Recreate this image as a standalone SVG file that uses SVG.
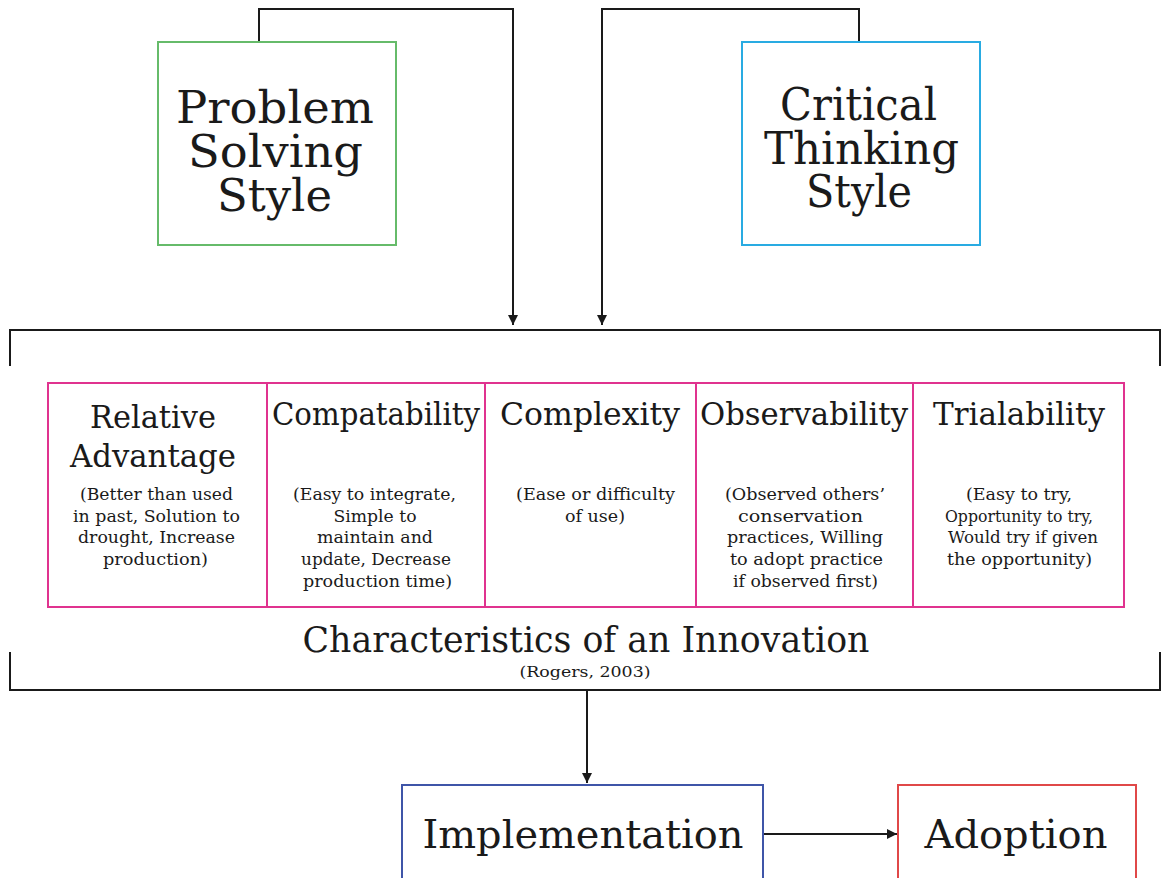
<svg xmlns="http://www.w3.org/2000/svg" width="1162" height="878" viewBox="0 0 1162 878">
<style>
text{font-family:"DejaVu Serif","Liberation Serif",serif;fill:#1a1a1a;text-anchor:middle}
.big{font-size:44px}
.ttl{font-size:31px}
.dsc{font-size:16.5px}
.box{fill:#fff;stroke-width:2}
.ln{fill:none;stroke:#1a1a1a;stroke-width:2}
</style>
<defs>
<marker id="ah" viewBox="0 0 10 10" refX="10" refY="5" markerWidth="10" markerHeight="10" markerUnits="userSpaceOnUse" orient="auto">
<path d="M0,0 L10,5 L0,10 Z" fill="#1a1a1a"/>
</marker>
</defs>
<rect width="1162" height="878" fill="#fff"/>
<g id="connectors">
<path class="ln" d="M259,42 V9 H513 V325" marker-end="url(#ah)"/>
<path class="ln" d="M859,42 V9 H602 V325" marker-end="url(#ah)"/>
<path class="ln" d="M10,366 V330 H1160 V366"/>
<path class="ln" d="M10,652 V690 H1160 V652"/>
<path class="ln" d="M587,690 V783" marker-end="url(#ah)"/>
<path class="ln" d="M764,834 H897" marker-end="url(#ah)"/>
</g>
<g id="problem-solving">
<rect class="box" x="158" y="42" width="238" height="203" stroke="#66bb6a"/>
<text class="big" x="275" y="123" textLength="198" lengthAdjust="spacingAndGlyphs">Problem</text>
<text class="big" x="275.5" y="167" textLength="175" lengthAdjust="spacingAndGlyphs">Solving</text>
<text class="big" x="274.5" y="211" textLength="115" lengthAdjust="spacingAndGlyphs">Style</text>
</g>
<g id="critical-thinking">
<rect class="box" x="742" y="42" width="238" height="203" stroke="#29abe2"/>
<text class="big" x="858.5" y="120" textLength="157" lengthAdjust="spacingAndGlyphs">Critical</text>
<text class="big" x="861.5" y="164" textLength="195" lengthAdjust="spacingAndGlyphs">Thinking</text>
<text class="big" x="859" y="207" textLength="106" lengthAdjust="spacingAndGlyphs">Style</text>
</g>
<g id="relative-advantage">
<rect class="box" x="48" y="383" width="219" height="224" stroke="#e0338f"/>
<text class="ttl" x="153" y="428" textLength="126" lengthAdjust="spacingAndGlyphs">Relative</text>
<text class="ttl" x="153" y="467" textLength="166" lengthAdjust="spacingAndGlyphs">Advantage</text>
<text class="dsc" x="156.5" y="500" textLength="153" lengthAdjust="spacingAndGlyphs">(Better than used</text>
<text class="dsc" x="156.5" y="522" textLength="167" lengthAdjust="spacingAndGlyphs">in past, Solution to</text>
<text class="dsc" x="156.5" y="543" textLength="157" lengthAdjust="spacingAndGlyphs">drought, Increase</text>
<text class="dsc" x="155.5" y="565" textLength="105" lengthAdjust="spacingAndGlyphs">production)</text>
</g>
<g id="compatability">
<rect class="box" x="267" y="383" width="218" height="224" stroke="#e0338f"/>
<text class="ttl" x="376" y="425" textLength="208" lengthAdjust="spacingAndGlyphs">Compatability</text>
<text class="dsc" x="374.5" y="500" textLength="163" lengthAdjust="spacingAndGlyphs">(Easy to integrate,</text>
<text class="dsc" x="375" y="522" textLength="83" lengthAdjust="spacingAndGlyphs">Simple to</text>
<text class="dsc" x="375" y="543" textLength="116" lengthAdjust="spacingAndGlyphs">maintain and</text>
<text class="dsc" x="376" y="565" textLength="150" lengthAdjust="spacingAndGlyphs">update, Decrease</text>
<text class="dsc" x="377.5" y="587" textLength="149" lengthAdjust="spacingAndGlyphs">production time)</text>
</g>
<g id="complexity">
<rect class="box" x="485" y="383" width="211" height="224" stroke="#e0338f"/>
<text class="ttl" x="590" y="425" textLength="180" lengthAdjust="spacingAndGlyphs">Complexity</text>
<text class="dsc" x="595.5" y="500" textLength="159" lengthAdjust="spacingAndGlyphs">(Ease or difficulty</text>
<text class="dsc" x="595" y="522" textLength="60" lengthAdjust="spacingAndGlyphs">of use)</text>
</g>
<g id="observability">
<rect class="box" x="696" y="383" width="217" height="224" stroke="#e0338f"/>
<text class="ttl" x="804" y="425" textLength="208" lengthAdjust="spacingAndGlyphs">Observability</text>
<text class="dsc" x="805" y="500" textLength="160" lengthAdjust="spacingAndGlyphs">(Observed others’</text>
<text class="dsc" x="800.5" y="522" textLength="125" lengthAdjust="spacingAndGlyphs">conservation</text>
<text class="dsc" x="805" y="543" textLength="156" lengthAdjust="spacingAndGlyphs">practices, Willing</text>
<text class="dsc" x="806.5" y="565" textLength="153" lengthAdjust="spacingAndGlyphs">to adopt practice</text>
<text class="dsc" x="805.5" y="587" textLength="145" lengthAdjust="spacingAndGlyphs">if observed first)</text>
</g>
<g id="trialability">
<rect class="box" x="913" y="383" width="211" height="224" stroke="#e0338f"/>
<text class="ttl" x="1019" y="425" textLength="172" lengthAdjust="spacingAndGlyphs">Trialability</text>
<text class="dsc" x="1019" y="500" textLength="106" lengthAdjust="spacingAndGlyphs">(Easy to try,</text>
<text class="dsc" x="1019" y="522" textLength="148" lengthAdjust="spacingAndGlyphs">Opportunity to try,</text>
<text class="dsc" x="1023" y="543" textLength="150" lengthAdjust="spacingAndGlyphs">Would try if given</text>
<text class="dsc" x="1019.5" y="565" textLength="145" lengthAdjust="spacingAndGlyphs">the opportunity)</text>
</g>
<g id="characteristics-label">
<text x="586" y="652" font-size="35" textLength="567" lengthAdjust="spacingAndGlyphs">Characteristics of an Innovation</text>
<text x="585" y="677" font-size="14.5" textLength="131" lengthAdjust="spacingAndGlyphs">(Rogers, 2003)</text>
</g>
<g id="implementation">
<rect class="box" x="402" y="785" width="361" height="110" stroke="#3f55a8"/>
<text x="583" y="848" font-size="39" textLength="321" lengthAdjust="spacingAndGlyphs">Implementation</text>
</g>
<g id="adoption">
<rect class="box" x="898" y="785" width="238" height="110" stroke="#e04848"/>
<text x="1016" y="848" font-size="39" textLength="183" lengthAdjust="spacingAndGlyphs">Adoption</text>
</g>
</svg>
